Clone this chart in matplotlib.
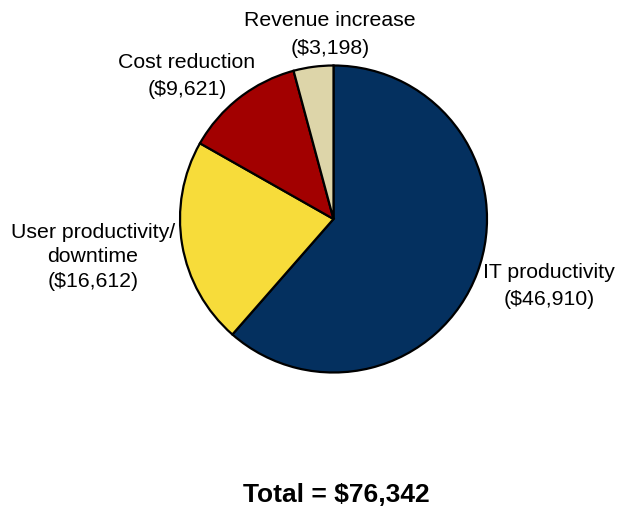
import matplotlib
matplotlib.use("Agg")
import matplotlib.pyplot as plt

categories = ["IT productivity", "User productivity/\ndowntime", "Cost reduction", "Revenue increase"]
values = [46910, 16612, 9621, 3198]
colors = ["#04305F", "#F7DC3A", "#A20000", "#DDD5A9"]
total_label = "Total = $76,342"

plt.rcParams["font.family"] = ["Liberation Sans", "DejaVu Sans"]

W, H = 618, 510
fig = plt.figure(figsize=(W / 100, H / 100), dpi=100)
ax = fig.add_axes([0, 0, 1, 1])

cx, cy, r = 333.5, H - 220, 153.5
ax.pie(values, colors=colors, startangle=90, counterclock=False,
       center=(cx, cy), radius=r, frame=True,
       wedgeprops=dict(edgecolor="black", linewidth=1.6))
ax.set_xlim(0, W)
ax.set_ylim(0, H)
ax.set_aspect("equal")
ax.axis("off")

# label anchors in pixel space (x, y from top) and line spacing per label
label_pos = [(549, 286), (93, 257), (187, 76), (330, 34.5)]
label_spacing = [1.55, 1.37, 1.58, 1.58]
for name, val, (lx, ly), ls in zip(categories, values, label_pos, label_spacing):
    ax.text(lx, H - ly, f"{name}\n(${val:,})", ha="center", va="center",
            fontsize=15.3, linespacing=ls, color="black")

ax.text(336, H - 495, total_label, ha="center", va="center",
        fontsize=19, fontweight="bold", color="black")

fig.savefig("out.png", dpi=100)
